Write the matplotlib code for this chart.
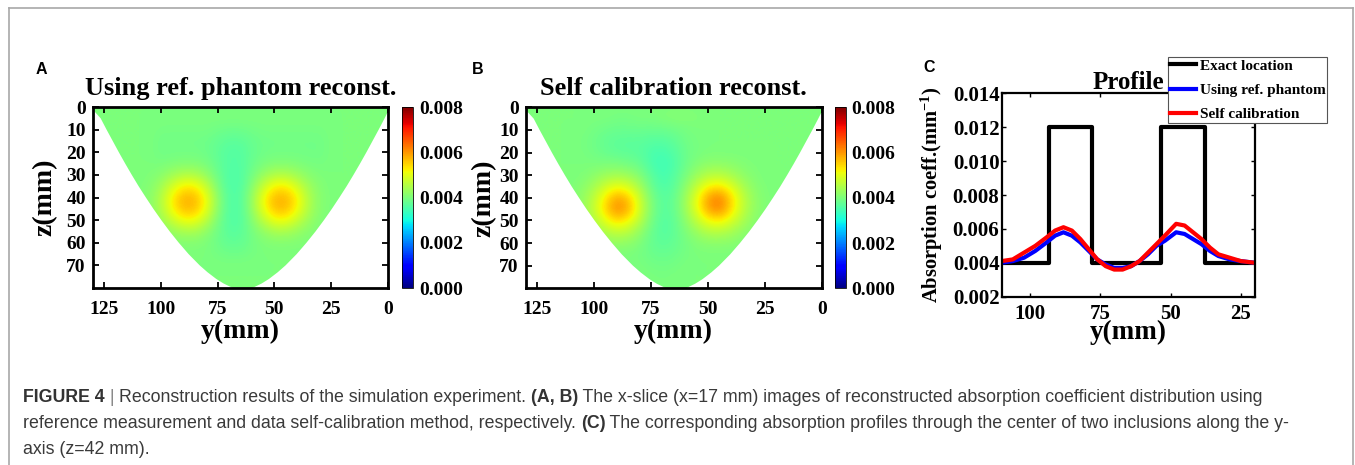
import numpy as np
import matplotlib
matplotlib.use("Agg")
import matplotlib.pyplot as plt
from matplotlib.patches import Polygon
from matplotlib.lines import Line2D
from matplotlib.ticker import FormatStrFormatter

# ---------------- data ----------------
# grid nodes of the reconstructed x-slice images (mm)
y_nodes = [130, 125, 120, 115, 110, 105, 100, 95, 90, 85, 80, 75, 70, 65,
           60, 55, 50, 45, 40, 35, 30, 25, 20, 15, 10, 5, 0]
z_nodes = [0, 5, 10, 15, 20, 25, 30, 35, 40, 45, 50, 55, 60, 65, 70, 75, 80]

B = 4.0  # background absorption (x1e-3 mm^-1)
# (A) using reference phantom, values x1e-3 mm^-1, rows = z_nodes, cols = y_nodes
recon_ref = [
    [B] * 27,
    [B] * 27,
    [B] * 6 + [3.95, 3.95, 3.95, 3.95, 3.95, 3.89, 3.85, 3.86, 3.91, 3.95, 3.95, 3.95, 3.95, 3.95, 3.95] + [B] * 6,
    [B] * 6 + [3.9, 3.9, 3.9, 3.9, 3.87, 3.78, 3.7, 3.71, 3.82, 3.88, 3.9, 3.9, 3.9, 3.9, 3.9] + [B] * 6,
    [B] * 6 + [3.9, 3.92, 3.92, 3.92, 3.87, 3.74, 3.62, 3.63, 3.8, 3.89, 3.92, 3.92, 3.92, 3.9, 3.9] + [B] * 6,
    [B] * 6 + [3.98, 4.03, 4.07, 4.06, 3.97, 3.76, 3.6, 3.62, 3.83, 3.99, 4.07, 4.07, 4.02, 3.97, 3.95] + [B] * 6,
    [B] * 5 + [4.03, 4.13, 4.36, 4.54, 4.51, 4.24, 3.83, 3.57, 3.59, 3.93, 4.28, 4.53, 4.53, 4.33, 4.11, 4.02] + [B] * 6,
    [B] * 4 + [4.01, 4.08, 4.36, 4.87, 5.28, 5.23, 4.7, 3.97, 3.56, 3.6, 4.12, 4.76, 5.26, 5.26, 4.81, 4.32, 4.07, 4.0] + [B] * 5,
    [B] * 4 + [4.02, 4.12, 4.54, 5.28, 5.78, 5.71, 5.07, 4.13, 3.6, 3.64, 4.28, 5.15, 5.74, 5.74, 5.2, 4.48, 4.1, 4.01] + [B] * 5,
    [B] * 4 + [4.01, 4.11, 4.51, 5.23, 5.71, 5.66, 5.02, 4.12, 3.58, 3.62, 4.26, 5.08, 5.69, 5.69, 5.13, 4.46, 4.09, 4.0] + [B] * 5,
    [B] * 4 + [4.0, 4.07, 4.31, 4.77, 5.14, 5.09, 4.6, 3.96, 3.6, 3.62, 4.09, 4.66, 5.11, 5.11, 4.71, 4.27, 4.05, 4.0] + [B] * 5,
    [B] * 5 + [4.02, 4.1, 4.27, 4.43, 4.42, 4.18, 3.87, 3.65, 3.69, 3.95, 4.21, 4.43, 4.43, 4.25, 4.09, 4.02] + [B] * 6,
    [B] * 6 + [4.02, 4.05, 4.08, 4.08, 4.01, 3.86, 3.75, 3.76, 3.92, 4.03, 4.08, 4.08, 4.05, 4.02, 4.0] + [B] * 6,
    [B] * 11 + [3.93, 3.88, 3.89, 3.95] + [B] * 12,
    [B] * 27,
    [B] * 27,
    [B] * 27,
]
# (B) self calibration
recon_self = [
    [B] * 27,
    [B] * 8 + [3.95, 3.95, 4.0, 4.0, 4.05, 4.1, 4.1, 4.05] + [B] * 11,
    [B] * 6 + [3.93, 3.88, 3.84, 3.85, 3.85, 3.84, 3.85, 3.89, 3.95] + [B] * 12,
    [B] * 5 + [3.96, 3.88, 3.78, 3.72, 3.7, 3.72, 3.66, 3.65, 3.74, 3.9, 3.97] + [B] * 11,
    [B] * 5 + [3.97, 3.9, 3.8, 3.73, 3.71, 3.67, 3.54, 3.5, 3.62, 3.85, 3.96] + [B] * 11,
    [B] * 5 + [4.0, 3.98, 3.99, 3.97, 3.9, 3.79, 3.52, 3.4, 3.55, 3.84, 4.05, 4.15, 4.16, 4.13, 4.06, 4.02] + [B] * 6,
    [B] * 5 + [4.02, 4.14, 4.28, 4.35, 4.27, 4.05, 3.67, 3.45, 3.61, 3.95, 4.27, 4.52, 4.56, 4.4, 4.19, 4.06] + [B] * 6,
    [B] * 4 + [4.01, 4.13, 4.37, 4.77, 4.99, 4.84, 4.38, 3.82, 3.54, 3.69, 4.13, 4.66, 5.15, 5.27, 4.94, 4.45, 4.14, 4.02] + [B] * 5,
    [B] * 4 + [4.04, 4.22, 4.64, 5.28, 5.85, 5.54, 4.74, 3.99, 3.64, 3.77, 4.29, 5.02, 5.9, 6.19, 5.46, 4.7, 4.23, 4.05] + [B] * 5,
    [B] * 4 + [4.04, 4.26, 4.73, 5.5, 6.16, 5.81, 4.85, 4.06, 3.65, 3.78, 4.31, 5.04, 5.93, 6.23, 5.48, 4.7, 4.24, 4.05] + [B] * 5,
    [B] * 4 + [4.03, 4.18, 4.55, 5.08, 5.5, 5.24, 4.63, 3.96, 3.62, 3.73, 4.16, 4.69, 5.2, 5.34, 4.96, 4.5, 4.15, 4.03] + [B] * 5,
    [B] * 5 + [4.09, 4.26, 4.55, 4.73, 4.61, 4.25, 3.84, 3.62, 3.72, 4.02, 4.3, 4.56, 4.59, 4.45, 4.21, 4.06] + [B] * 6,
    [B] * 5 + [4.02, 4.09, 4.18, 4.24, 4.2, 4.04, 3.79, 3.7, 3.77, 3.93, 4.07, 4.15, 4.16, 4.13, 4.05, 4.0] + [B] * 6,
    [B] * 10 + [3.94, 3.85, 3.8, 3.85, 3.94] + [B] * 12,
    [B] * 11 + [3.92, 3.9, 3.92] + [B] * 13,
    [B] * 12 + [3.95] + [B] * 14,
    [B] * 27,
]

# outline of the imaged (bowl shaped) region, read along its edge
bowl_z = [0, 5, 10, 15, 20, 25, 30, 35, 40, 45, 50, 55, 60, 65, 70, 73, 76, 78, 80]
bowl_left = [131, 126.5, 123.9, 121.2, 118.5, 115.7, 112.8, 109.8, 106.6, 103.3,
             99.8, 96.1, 92.1, 87.8, 82.9, 79.5, 75.6, 72.4, 68.3]
bowl_right = [-1, 1.5, 4.1, 6.8, 9.5, 12.3, 15.2, 18.2, 21.4, 24.7,
              28.2, 31.9, 35.9, 40.2, 45.1, 48.5, 52.4, 55.6, 59.7]

cbar_ticks = [0.000, 0.002, 0.004, 0.006, 0.008]
map_xticks = [125, 100, 75, 50, 25, 0]
map_yticks = [0, 10, 20, 30, 40, 50, 60, 70]

# (C) profiles along y at z = 42 mm
profile_y = [110, 106, 102, 98, 94, 91, 88, 85, 82, 79, 76, 73, 70, 67,
             64, 61, 58, 55, 52, 48, 45, 42, 39, 36, 33, 29, 25, 20]
profile_ref = [4.0, 4.1, 4.3, 4.7, 5.2, 5.6, 5.8, 5.6, 5.2, 4.7, 4.2, 3.9, 3.7, 3.7,
               3.8, 4.1, 4.5, 5.0, 5.3, 5.8, 5.7, 5.4, 5.1, 4.7, 4.4, 4.2, 4.1, 4.0]
profile_self = [4.1, 4.2, 4.6, 5.0, 5.5, 5.9, 6.1, 5.9, 5.4, 4.8, 4.2, 3.8, 3.6, 3.6,
                3.8, 4.1, 4.6, 5.1, 5.6, 6.3, 6.2, 5.8, 5.4, 4.9, 4.5, 4.3, 4.1, 4.0]
exact_y = [110, 93.3, 93.3, 77.7, 77.7, 53.4, 53.4, 37.8, 37.8, 20]
exact_val = [4, 4, 12, 12, 4, 4, 12, 12, 4, 4]
prof_xticks = [100, 75, 50, 25]
prof_yticks = [0.002, 0.004, 0.006, 0.008, 0.010, 0.012, 0.014]

caption_lines = [
    [("FIGURE 4", "b"), (" | ", "s"), ("Reconstruction results of the simulation experiment. ", "r"),
     ("(A, B)", "b"), (" The x-slice (x=17 mm) images of reconstructed absorption coefficient distribution using", "r")],
    [("reference measurement and data self-calibration method, respectively. ", "r"), ("(C)", "b"),
     (" The corresponding absorption profiles through the center of two inclusions along the y-", "r")],
    [("axis (z=42 mm).", "r")],
]

# ---------------- style ----------------
plt.rcParams.update({
    "font.family": "Liberation Serif",
    "font.weight": "bold",
    "axes.labelweight": "bold",
    "axes.titleweight": "bold",
    "mathtext.fontset": "custom",
    "mathtext.rm": "Liberation Serif:bold",
    "mathtext.it": "Liberation Serif:bold",
    "mathtext.bf": "Liberation Serif:bold",
})

W, H = 1355, 465
fig = plt.figure(figsize=(W / 100, H / 100), dpi=100)


def fx(px):
    return px / W


def fy(py):
    return 1 - py / H


def rect(l, t, r, b):
    return [l / W, 1 - b / H, (r - l) / W, (b - t) / H]


def draw_map(ax_r, cax_r, field, title, ylab_x):
    ax = fig.add_axes(ax_r)
    cax = fig.add_axes(cax_r)
    data = np.array(field) * 1e-3
    im = ax.imshow(data, cmap="jet", vmin=0, vmax=0.008,
                   extent=(132.5, -2.5, 82.5, -2.5), origin="upper",
                   interpolation="bicubic", aspect="auto")
    pts = list(zip(bowl_left, bowl_z)) + list(zip(bowl_right[::-1], bowl_z[::-1]))
    clip = Polygon(pts, closed=True, transform=ax.transData)
    im.set_clip_path(clip)
    ax.set_xlim(130, 0)
    ax.set_ylim(80, 0)
    ax.set_xticks(map_xticks)
    ax.set_yticks(map_yticks)
    ax.tick_params(direction="in", length=4, width=1.3, top=True, right=True,
                   labelsize=14, pad=5)
    ax.tick_params(axis="x", pad=9)
    for s in ax.spines.values():
        s.set_linewidth(2)
    ax.set_title(title, fontsize=19, pad=9)
    ax.set_xlabel("y(mm)", fontsize=20, va="center")
    ax.xaxis.set_label_coords(0.5, -0.2376)
    ax.set_ylabel("z(mm)", fontsize=20, va="center")
    ax.yaxis.set_label_coords(ylab_x, 0.5)
    cb = fig.colorbar(im, cax=cax, ticks=cbar_ticks)
    cb.ax.yaxis.set_major_formatter(FormatStrFormatter("%.3f"))
    cb.ax.tick_params(labelsize=14, length=0, pad=4)
    cb.outline.set_linewidth(0.6)
    return ax


axA = draw_map(rect(92.7, 107, 388, 288), rect(402.5, 107, 413.5, 288),
               recon_ref, "Using ref. phantom reconst.", -0.1615)
axB = draw_map(rect(525.7, 107.3, 821.7, 288.3), rect(835, 107.3, 846, 288.3),
               recon_self, "Self calibration reconst.", -0.141)

# ---------------- panel C ----------------
axC = fig.add_axes(rect(1001.5, 93.3, 1255, 296.7))
hE, = axC.plot(exact_y, np.array(exact_val) * 1e-3, color="black", lw=3, label="Exact location")
hR, = axC.plot(profile_y, np.array(profile_ref) * 1e-3, color="#0000ff", lw=3, label="Using ref. phantom")
hS, = axC.plot(profile_y, np.array(profile_self) * 1e-3, color="#ff0000", lw=3, label="Self calibration")
axC.set_xlim(110, 20)
axC.set_ylim(0.002, 0.014)
axC.set_xticks(prof_xticks)
axC.set_yticks(prof_yticks)
axC.yaxis.set_major_formatter(FormatStrFormatter("%.3f"))
axC.tick_params(direction="in", length=3, width=1.0, top=True, right=True, labelsize=15)
axC.tick_params(axis="y", pad=1.5)
axC.tick_params(axis="x", pad=5)
for s in axC.spines.values():
    s.set_linewidth(1.6)
axC.set_title("Profile", fontsize=18, pad=3)
axC.set_xlabel("y(mm)", fontsize=19.5, va="center")
axC.xaxis.set_label_coords(0.5, -0.175)
axC.set_ylabel(r"Absorption coeff.(mm$^{-1}$)", fontsize=14.8, va="center")
axC.yaxis.set_label_coords(-0.275, 0.5)

leg = fig.legend(handles=[hE, hR, hS], loc="center",
                 bbox_to_anchor=(fx(1247.5), fy(90.2)), borderaxespad=0,
                 fontsize=11, frameon=True, fancybox=False, framealpha=1,
                 edgecolor="#555555", handlelength=1.7, handletextpad=0.25,
                 labelspacing=0.7, borderpad=0.12)
leg.get_frame().set_linewidth(0.8)

# ---------------- panel letters ----------------
for letter, px, py in [("A", 41.7, 69), ("B", 477.5, 69), ("C", 929, 68)]:
    fig.text(fx(px), fy(py), letter, family="Liberation Sans", weight="bold",
             fontsize=11.5, ha="center", va="center")

# ---------------- border ----------------
gray = "#a8a8a8"
fig.add_artist(Line2D([fx(9), fx(1353)], [fy(8), fy(8)], color=gray, lw=1.2, transform=fig.transFigure))
fig.add_artist(Line2D([fx(9), fx(9)], [fy(8), 0], color=gray, lw=1.2, transform=fig.transFigure))
fig.add_artist(Line2D([fx(1353), fx(1353)], [fy(8), 0], color=gray, lw=1.2, transform=fig.transFigure))

# ---------------- caption ----------------
renderer = fig.canvas.get_renderer()
styles = {
    "b": dict(family="Liberation Sans", weight="bold", color="#333333"),
    "r": dict(family="Liberation Sans", weight="normal", color="#3a3a3a"),
    "s": dict(family="Liberation Sans", weight="normal", color="#8a8a8a"),
}
cap_size = 12.8
baselines = [401.5, 427.7, 454]
for line, base in zip(caption_lines, baselines):
    x = 23.0
    for txt, st in line:
        t = fig.text(fx(x), fy(base), txt, fontsize=cap_size, va="baseline", ha="left", **styles[st])
        bb = t.get_window_extent(renderer)
        x = bb.x1

fig.savefig("out.png", dpi=100)
